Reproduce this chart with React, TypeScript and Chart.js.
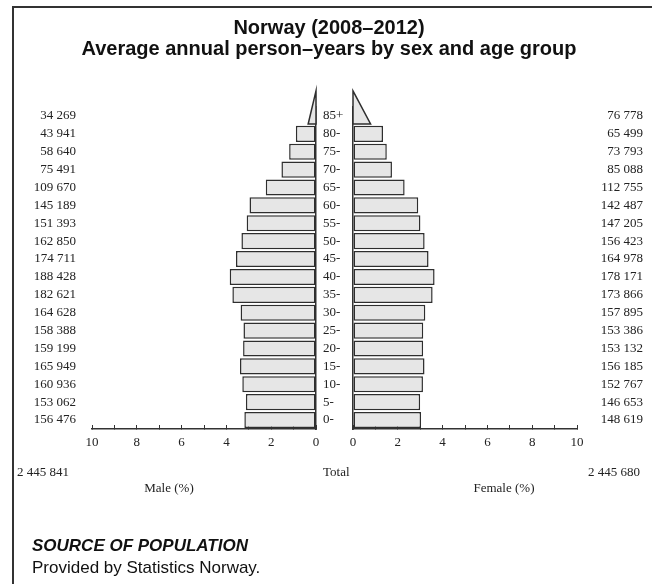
import React, { useEffect, useRef } from 'react';
import { Chart, registerables } from 'chart.js';

Chart.register(...registerables);

const ageGroups = ['85+', '80-', '75-', '70-', '65-', '60-', '55-', '50-', '45-', '40-', '35-', '30-', '25-', '20-', '15-', '10-', '5-', '0-'];
const maleCounts = [34269, 43941, 58640, 75491, 109670, 145189, 151393, 162850, 174711, 188428, 182621, 164628, 158388, 159199, 165949, 160936, 153062, 156476];
const femaleCounts = [76778, 65499, 73793, 85088, 112755, 142487, 147205, 156423, 164978, 178171, 173866, 157895, 153386, 153132, 156185, 152767, 146653, 148619];
const openGroup = '85+';
const axisMax = 10;

const fmt = (n: number) => String(n).replace(/\B(?=(\d{3})+(?!\d))/g, ' ');
const sum = (a: number[]) => a.reduce((s, v) => s + v, 0);
const maleTotal = sum(maleCounts);
const femaleTotal = sum(femaleCounts);
const grandTotal = maleTotal + femaleTotal;
const pct = (n: number) => (n / grandTotal) * 100;

const SERIF = "'Liberation Serif', 'Times New Roman', Times, serif";
const SANS = "'Liberation Sans', Arial, Helvetica, sans-serif";
const tickFont = { family: SERIF, size: 13 };
const tickColor = '#222';
const barFill = '#e6e6e6';
const barLine = '#2e2e2e';

const trianglePlugin = {
  id: 'openTriangle',
  afterDatasetsDraw(chart: any, _args: any, opts: any) {
    if (!opts || opts.value == null) return;
    const xs = chart.scales.x;
    const ys = chart.scales[opts.yAxis];
    const ctx = chart.ctx;
    const idx = opts.index;
    const baseY = ys.getPixelForValue(idx + 0.45);
    const apexY = ys.getPixelForValue(idx - 1.4);
    const x0 = xs.getPixelForValue(0);
    const x1 = xs.getPixelForValue(opts.value / 2);
    ctx.save();
    ctx.beginPath();
    ctx.moveTo(x0, apexY);
    ctx.lineTo(x1, baseY);
    ctx.lineTo(x0, baseY);
    ctx.closePath();
    ctx.fillStyle = barFill;
    ctx.fill();
    ctx.lineWidth = 1.5;
    ctx.strokeStyle = barLine;
    ctx.stroke();
    ctx.restore();
  },
};

function xAxis(reverse: boolean) {
  return {
    type: 'linear',
    position: 'bottom',
    min: 0,
    max: axisMax,
    reverse,
    ticks: {
      stepSize: 1,
      autoSkip: false,
      maxRotation: 0,
      padding: 10,
      font: tickFont,
      color: tickColor,
      callback: (v: any) => (Number(v) % 2 === 0 ? String(v) : ''),
    },
    grid: { drawOnChartArea: false, drawTicks: true, tickLength: -4, color: '#333', lineWidth: 1 },
    border: { display: true, color: '#333', width: 1.5 },
    afterFit: (s: any) => {
      s.height = 30;
    },
  };
}

function barDataset(counts: number[], yAxisID: string) {
  return {
    data: counts.map((v, i) => (ageGroups[i] === openGroup ? null : pct(v))),
    xAxisID: 'x',
    yAxisID,
    backgroundColor: barFill,
    borderColor: barLine,
    borderWidth: 1.5,
    borderSkipped: false,
    barPercentage: 0.9,
    categoryPercentage: 1,
  };
}

export default function App() {
  const leftRef = useRef<HTMLCanvasElement>(null);
  const rightRef = useRef<HTMLCanvasElement>(null);

  useEffect(() => {
    const openIdx = ageGroups.indexOf(openGroup);
    const left = new Chart(leftRef.current as HTMLCanvasElement, {
      type: 'bar',
      data: { labels: ageGroups, datasets: [barDataset(maleCounts, 'yA') as any] },
      plugins: [trianglePlugin as any],
      options: {
        indexAxis: 'y',
        responsive: false,
        animation: false,
        layout: { padding: { left: 0, right: 301, top: 107, bottom: 125 } },
        plugins: {
          legend: { display: false },
          tooltip: { enabled: false },
          openTriangle: { yAxis: 'yA', index: openIdx, value: pct(maleCounts[openIdx]) },
        } as any,
        scales: {
          x: xAxis(true) as any,
          yL: {
            type: 'category',
            position: 'left',
            ticks: { autoSkip: false, padding: 16, font: tickFont, color: tickColor, callback: (_v: any, i: number) => fmt(maleCounts[i]) },
            grid: { display: false, drawTicks: false },
            border: { display: false },
            afterFit: (s: any) => {
              s.width = 92;
            },
          } as any,
          yA: {
            type: 'category',
            position: 'right',
            ticks: { autoSkip: false, padding: 7, font: tickFont, color: tickColor },
            grid: { display: false, drawTicks: false },
            border: { display: true, color: '#333', width: 1.5 },
            afterFit: (s: any) => {
              s.width = 37;
            },
          } as any,
        },
      },
    });
    const right = new Chart(rightRef.current as HTMLCanvasElement, {
      type: 'bar',
      data: { labels: ageGroups, datasets: [barDataset(femaleCounts, 'yR') as any] },
      plugins: [trianglePlugin as any],
      options: {
        indexAxis: 'y',
        responsive: false,
        animation: false,
        layout: { padding: { left: 353, right: 11, top: 107, bottom: 125 } },
        plugins: {
          legend: { display: false },
          tooltip: { enabled: false },
          openTriangle: { yAxis: 'yR', index: openIdx, value: pct(femaleCounts[openIdx]) },
        } as any,
        scales: {
          x: xAxis(false) as any,
          yB: {
            type: 'category',
            position: 'left',
            ticks: { display: false },
            grid: { display: false, drawTicks: false },
            border: { display: true, color: '#333', width: 1.5 },
            afterFit: (s: any) => {
              s.width = 0;
            },
          } as any,
          yR: {
            type: 'category',
            position: 'right',
            ticks: { autoSkip: false, padding: 0, crossAlign: 'far', font: tickFont, color: tickColor, callback: (_v: any, i: number) => fmt(femaleCounts[i]) },
            grid: { display: false, drawTicks: false },
            border: { display: false },
            afterFit: (s: any) => {
              s.width = 66;
            },
          } as any,
        },
      },
    });
    return () => {
      left.destroy();
      right.destroy();
    };
  }, []);

  const serifText = (text: string, style: React.CSSProperties) => (
    <div style={{ position: 'absolute', fontFamily: SERIF, fontSize: 13, lineHeight: '16px', color: '#222', whiteSpace: 'nowrap', ...style }}>{text}</div>
  );

  return (
    <div style={{ position: 'absolute', left: 0, top: 0, width: 654, height: 584, background: '#fff', overflow: 'hidden' }}>
      <canvas ref={leftRef} width={654} height={584} style={{ position: 'absolute', left: 0, top: 0 }} />
      <canvas ref={rightRef} width={654} height={584} style={{ position: 'absolute', left: 0, top: 0 }} />
      <div style={{ position: 'absolute', left: 12, top: 6, width: 2, height: 578, background: '#333', zIndex: 5 }} />
      <div style={{ position: 'absolute', left: 12, top: 6, width: 640, height: 2, background: '#333', zIndex: 5 }} />
      <div style={{ position: 'absolute', left: 14, top: 17, width: 630, textAlign: 'center', fontFamily: SANS, fontWeight: 'bold', fontSize: 20, lineHeight: '21px', color: '#111' }}>
        <div>Norway (2008–2012)</div>
        <div>Average annual person–years by sex and age group</div>
      </div>
      {serifText(fmt(maleTotal), { left: 17, top: 464 })}
      {serifText('Total', { left: 323, top: 464 })}
      {serifText(fmt(femaleTotal), { right: 14, top: 464 })}
      {serifText('Male (%)', { left: 119, width: 100, textAlign: 'center', top: 480 })}
      {serifText('Female (%)', { left: 454, width: 100, textAlign: 'center', top: 480 })}
      <div style={{ position: 'absolute', left: 32, top: 535, fontFamily: SANS, fontSize: 17, lineHeight: '22px', color: '#111' }}>
        <div style={{ fontWeight: 'bold', fontStyle: 'italic' }}>SOURCE OF POPULATION</div>
        <div>Provided by Statistics Norway.</div>
      </div>
    </div>
  );
}
